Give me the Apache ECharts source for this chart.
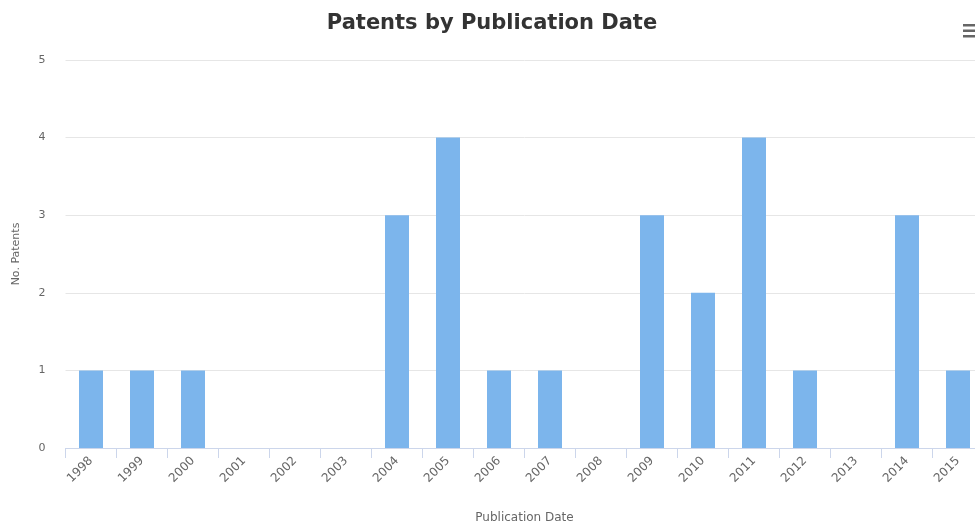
<!DOCTYPE html>
<html>
<head>
<meta charset="utf-8">
<script src="https://cdn.jsdelivr.net/npm/echarts@6/dist/echarts.min.js"></script>
<style>
html, body { margin: 0; padding: 0; background: #fff; overflow: hidden; }
#main { width: 984px; height: 526px; }
</style>
</head>
<body>
<div id="main"></div>
<script>
var years = ['1998', '1999', '2000', '2001', '2002', '2003', '2004', '2005', '2006',
	'2007', '2008', '2009', '2010', '2011', '2012', '2013', '2014', '2015'];
var patentCounts = [1, 1, 1, 0, 0, 0, 3, 4, 1, 1, 0, 3, 2, 4, 1, 0, 3, 1];
var yTicks = [0, 1, 2, 3, 4, 5];

// chart is a bit wider than the window, the right edge gets cut like in the picture
var option = {
	animation : false,
	title : {
		text : 'Patents by Publication Date',
		left : 'center',
		top : 8,
		textStyle : {
			fontFamily : 'DejaVu Sans',
			fontSize : 21,
			fontWeight : 'bold',
			color : '#333333'
		}
	},
	toolbox : {
		right : -8,
		top : 9,
		itemSize : 14,
		feature : {
			myMenu : {
				show : true,
				title : 'Menu',
				icon : 'path://M0,0 L14,0 L14,2.5 L0,2.5 Z M0,5.5 L14,5.5 L14,8 L0,8 Z M0,11 L14,11 L14,13.5 L0,13.5 Z',
				onclick : function() {}
			}
		},
		iconStyle : {
			color : '#666666',
			borderColor : '#666666',
			borderWidth : 0
		}
	},
	grid : {
		left : 65.5,
		right : 0.5,
		top : 60,
		bottom : 78,
		outerBoundsMode : 'none'
	},
	xAxis : [ {
		type : 'category',
		data : years,
		boundaryGap : true,
		name : 'Publication Date',
		nameLocation : 'middle',
		nameGap : 64,
		nameTextStyle : {
			color : '#666666',
			fontSize : 12,
			fontFamily : 'DejaVu Sans'
		},
		axisLine : {
			lineStyle : { color : '#ccd6eb', width : 1 }
		},
		axisTick : {
			show : true,
			alignWithLabel : false,
			length : 10,
			lineStyle : { color : '#ccd6eb' }
		},
		axisLabel : {
			rotate : 45,
			interval : 0,
			margin : 11,
			color : '#666666',
			fontSize : 12,
			fontFamily : 'DejaVu Sans'
		}
	} ],
	yAxis : [ {
		type : 'value',
		min : yTicks[0],
		max : yTicks[yTicks.length - 1],
		interval : 1,
		name : 'No. Patents',
		nameLocation : 'middle',
		nameGap : 44,
		nameTextStyle : {
			color : '#666666',
			fontSize : 11,
			fontFamily : 'DejaVu Sans'
		},
		axisLine : { show : false },
		axisTick : { show : false },
		axisLabel : {
			margin : 20,
			color : '#666666',
			fontSize : 11,
			fontFamily : 'DejaVu Sans'
		},
		splitLine : {
			lineStyle : { color : '#e6e6e6', width : 1 }
		}
	} ],
	series : [ {
		name : 'No. Patents',
		type : 'bar',
		data : patentCounts,
		barWidth : 24,
		itemStyle : {
			color : '#7cb5ec'
		}
	} ]
};

var myChart = echarts.init(document.getElementById('main'));
myChart.setOption(option);
</script>
</body>
</html>
